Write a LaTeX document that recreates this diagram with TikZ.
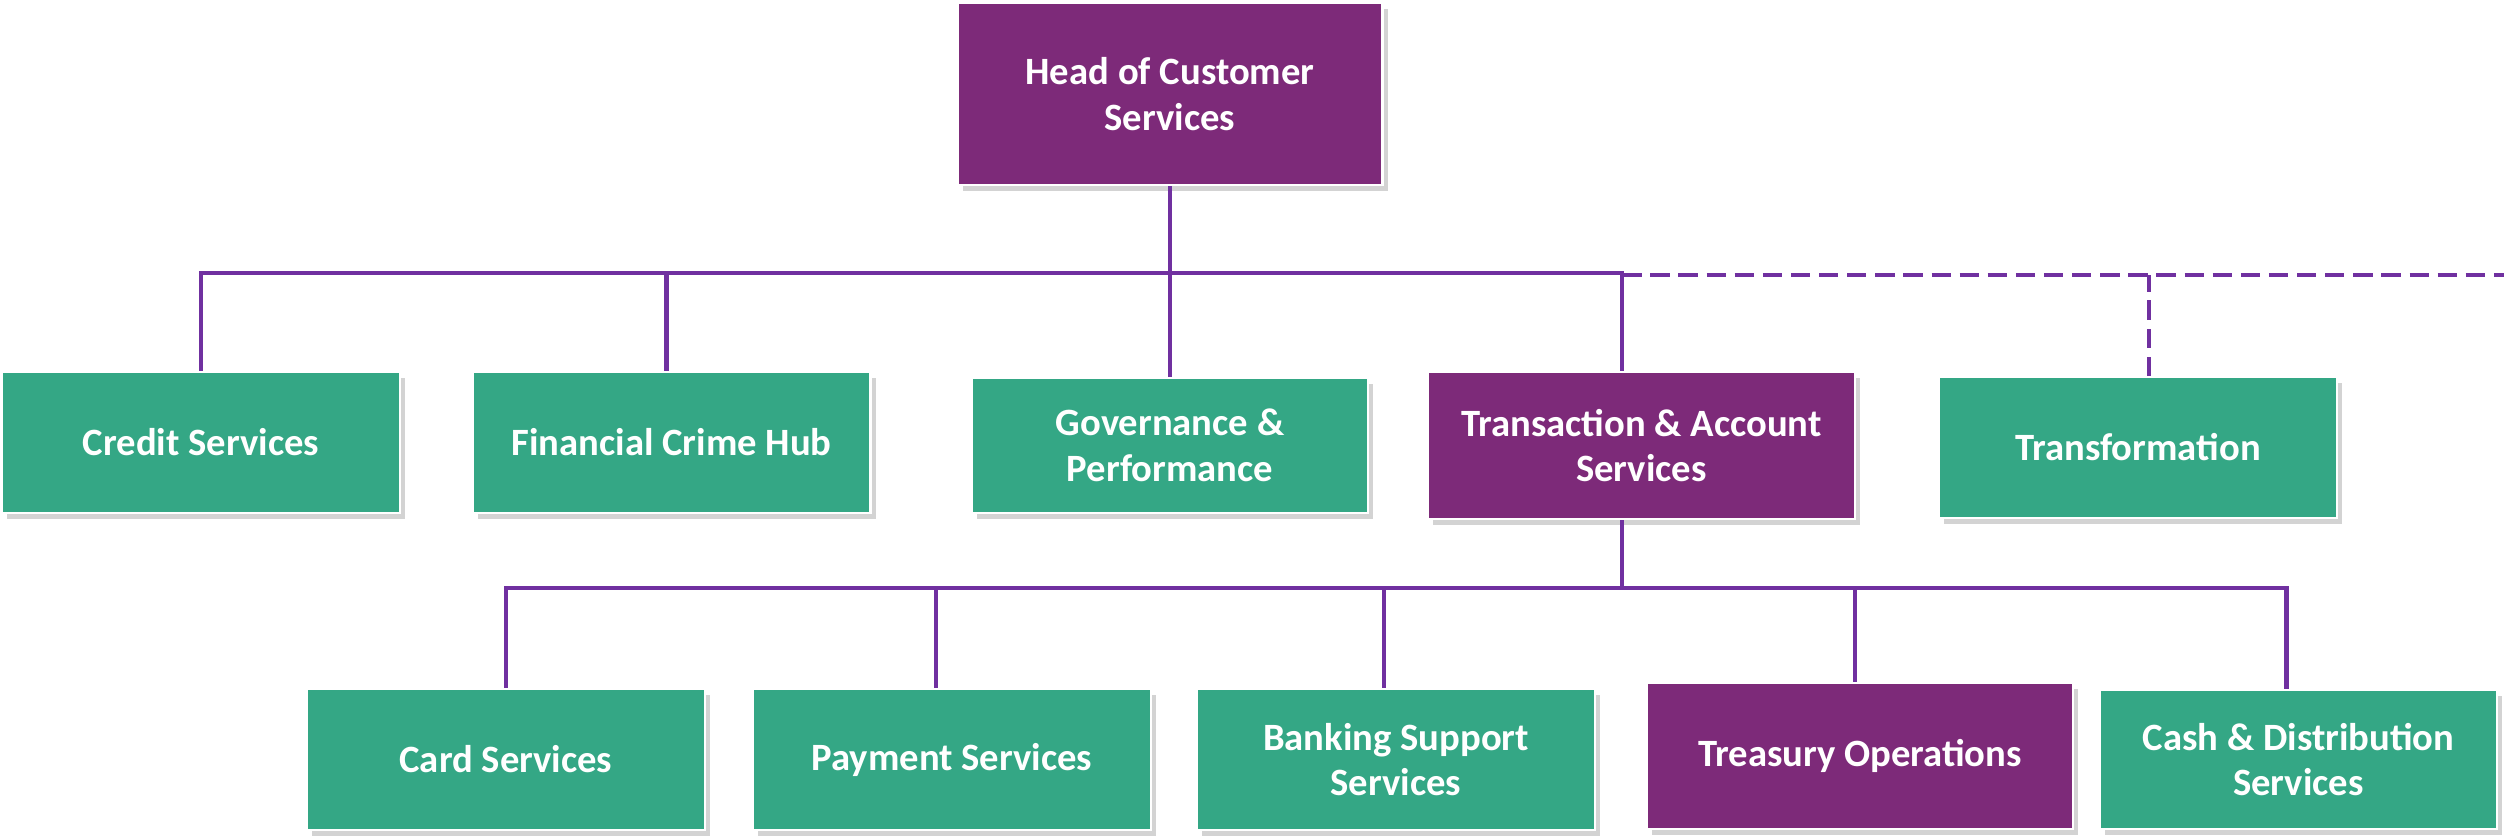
\documentclass[tikz,border=0pt]{standalone}
\usepackage{fontspec}
\setmainfont{Carlito}
\usepackage{xcolor}
\usetikzlibrary{calc,shadows}
\definecolor{plum}{HTML}{7D2A79}
\definecolor{jade}{HTML}{34A785}
\definecolor{wire}{HTML}{7030A0}

\begin{document}
\begin{tikzpicture}[line width=1.2pt,
    unit/.style = {draw=white, line width=0.6pt, fill=jade, text=white, align=center,
                   font=\fontsize{11}{13}\selectfont\bfseries, inner sep=2pt,
                   minimum width=3.98cm, minimum height=1.41cm,
                   drop shadow={shadow xshift=0.05cm, shadow yshift=-0.06cm, opacity=0.35}},
    lead/.style = {unit, fill=plum},
    link/.style = {draw=wire},
    dlink/.style = {draw=wire, dash pattern=on 5.5pt off 2.5pt}]
    \useasboundingbox (0,0) rectangle (25.04,-8.36);
    \node[lead] (head)  at (11.70,-0.94)  [minimum width=4.25cm, minimum height=1.82cm] {Head of Customer\\Services};
    \node[unit] (credit) at (2.01,-4.425)  {Credit Services};
    \node[unit] (fch)    at (6.715,-4.425) {Financial Crime Hub};
    \node[unit] (gov)    at (11.70,-4.455) [minimum width=3.96cm, minimum height=1.35cm] {Governance \&\\Performance};
    \node[lead] (tas)    at (16.415,-4.455) [minimum width=4.27cm, minimum height=1.47cm] {Transaction \& Account\\Services};
    \node[unit] (trans)  at (21.38,-4.475) {Transformation};
    \node[unit] (card)   at (5.06,-7.595)  {Card Services};
    \node[unit] (pay)    at (9.52,-7.595)  {Payment Services};
    \node[unit] (bank)   at (13.96,-7.595) {Banking Support\\Services};
    \node[lead] (treas)  at (18.60,-7.56)  [minimum width=4.26cm, minimum height=1.46cm] {Treasury Operations};
    \node[unit] (cash)   at (22.985,-7.595) [minimum width=3.97cm, minimum height=1.39cm] {Cash \& Distribution\\Services};
    \coordinate (topbus) at (0,-2.73);
    \coordinate (lowbus) at (0,-5.88);
    \coordinate (edge)   at (25.04,-2.75);
    \coordinate (tasup)  at ($(tas.north west)!0.455!(tas.north east)$);
    \coordinate (tasdn)  at ($(tas.south west)!0.455!(tas.south east)$);
    \coordinate (cashup) at ([xshift=-1.2mm]cash.north);
    \draw[link] (head) -- (gov);
    \draw[link] (credit.north) |- (topbus -| tasup) -- (tasup);
    \draw[link] ([xshift=-0.5mm]fch.north) -- ([xshift=-0.5mm]fch.north |- topbus);
    \draw[dlink] (tasup |- edge) -- (edge);
    \draw[dlink] ([xshift=1.1mm]trans.north) -- ([xshift=1.1mm]trans.north |- edge);
    \draw[link] (tasdn) -- (tasdn |- lowbus);
    \draw[link] (card.north) |- (lowbus -| cashup) -- (cashup);
    \draw[link] ([xshift=-1.6mm]pay.north) -- ([xshift=-1.6mm]pay.north |- lowbus);
    \draw[link] ([xshift=-1.2mm]bank.north) -- ([xshift=-1.2mm]bank.north |- lowbus);
    \draw[link] ([xshift=-0.5mm]treas.north) -- ([xshift=-0.5mm]treas.north |- lowbus);
\end{tikzpicture}
\end{document}
